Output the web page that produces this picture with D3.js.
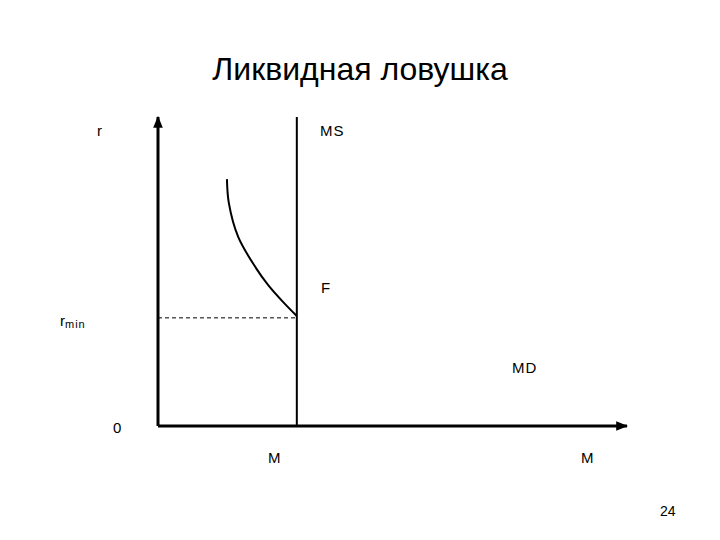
<!DOCTYPE html>
<html>
<head>
<meta charset="utf-8">
<script src="https://cdn.jsdelivr.net/npm/d3@7"></script>
<style>
body { margin: 0; background: #fff; }
text { font-family: "Liberation Sans", Arial, sans-serif; fill: #000; }
</style>
</head>
<body>
<div id="chart"></div>
<script>
var width = 720;
var height = 540;

// data (abstract units, 0..100 on each axis)
var msX = 29.6;          // money supply (vertical line)
var rMin = 35;           // r min level
var mdX = [14.7, 15.1, 17.1, 20.9, 23.5, 26.7, 29.6]; // MD curve
var mdY = [79.9, 72.2, 61.2, 51.1, 45.6, 40.1, 35.6];
var titre = "Ликвидная ловушка";
var pageNum = "24";

var x = d3.scaleLinear().domain([0, 100]).range([158, 627]);
var y = d3.scaleLinear().domain([0, 100]).range([426, 117]);

var svg = d3.select("#chart")
	.append("svg")
	.attr("width", width)
	.attr("height", height);

var defs = svg.append("defs");
defs.append("marker")
	.attr("id", "fleche")
	.attr("viewBox", "0 0 10 10")
	.attr("refX", 9)
	.attr("refY", 5)
	.attr("markerWidth", 4)
	.attr("markerHeight", 4)
	.attr("markerUnits", "strokeWidth")
	.attr("orient", "auto")
	.append("path")
	.attr("d", "M0,1 L10,5 L0,9 z")
	.attr("fill", "#000");

// title
svg.append("text")
	.attr("x", 360)
	.attr("y", 80)
	.attr("text-anchor", "middle")
	.style("font-size", "32px")
	.text(titre);

// axes
svg.append("line")
	.attr("x1", x(0)).attr("y1", y(0))
	.attr("x2", x(0)).attr("y2", y(100))
	.attr("stroke", "#000").attr("stroke-width", 3)
	.attr("marker-end", "url(#fleche)");
svg.append("line")
	.attr("x1", x(0)).attr("y1", y(0))
	.attr("x2", x(100)).attr("y2", y(0))
	.attr("stroke", "#000").attr("stroke-width", 3)
	.attr("marker-end", "url(#fleche)");

// MS line
svg.append("line")
	.attr("x1", x(msX)).attr("y1", y(0))
	.attr("x2", x(msX)).attr("y2", y(100))
	.attr("stroke", "#000").attr("stroke-width", 2);

// r min dashed
svg.append("line")
	.attr("x1", x(0)).attr("y1", y(rMin))
	.attr("x2", x(msX)).attr("y2", y(rMin))
	.attr("stroke", "#000").attr("stroke-width", 1)
	.attr("stroke-dasharray", "4,3");

// MD curve
var pts = mdX.map(function(d, i) { return [d, mdY[i]]; });
var ligne = d3.line()
	.x(function(d) { return x(d[0]); })
	.y(function(d) { return y(d[1]); })
	.curve(d3.curveCatmullRom);
svg.append("path")
	.datum(pts)
	.attr("d", ligne)
	.attr("fill", "none")
	.attr("stroke", "#000")
	.attr("stroke-width", 2);

// labels
var labels = [
	{t: "r", x: 97, y: 136},
	{t: "MS", x: 320, y: 136},
	{t: "F", x: 321, y: 293},
	{t: "MD", x: 512, y: 373},
	{t: "0", x: 113, y: 433},
	{t: "M", x: 268, y: 463},
	{t: "M", x: 581, y: 463}
];
svg.selectAll("text.lbl")
	.data(labels)
	.enter()
	.append("text")
	.attr("class", "lbl")
	.attr("x", function(d) { return d.x; })
	.attr("y", function(d) { return d.y; })
	.style("font-size", "15px")
	.style("letter-spacing", "1px")
	.text(function(d) { return d.t; });

var rm = svg.append("text")
	.attr("x", 60).attr("y", 326)
	.style("font-size", "15px");
rm.append("tspan").text("r");
rm.append("tspan").attr("dy", 2).style("font-size", "11px").style("letter-spacing", "1px").text("min");

svg.append("text")
	.attr("x", 660).attr("y", 516)
	.style("font-size", "14px")
	.text(pageNum);
</script>
</body>
</html>
